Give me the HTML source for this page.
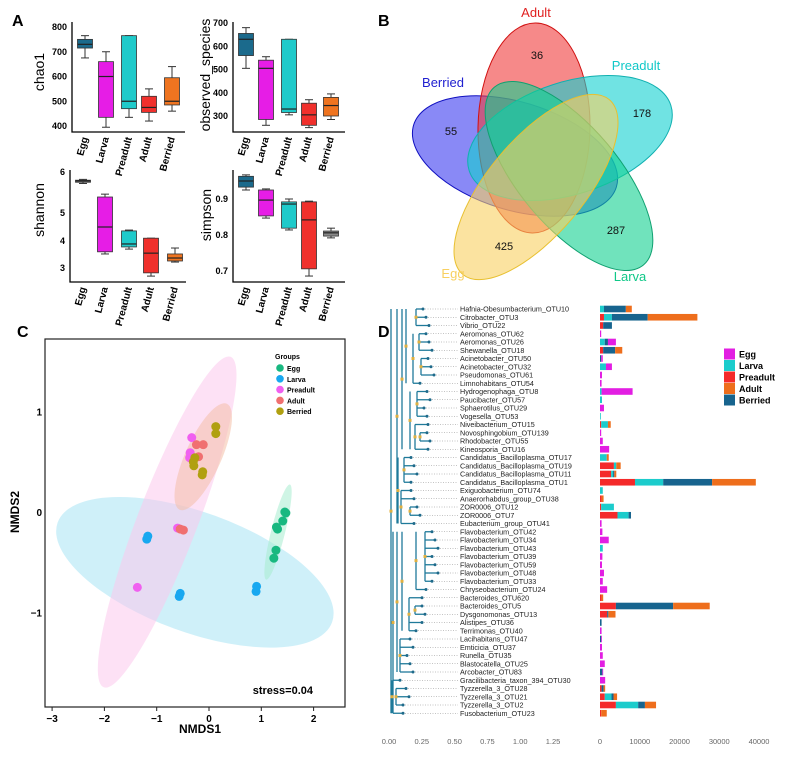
<!DOCTYPE html>
<html><head><meta charset="utf-8"><style>
body{margin:0;background:#fff}
svg{display:block;font-family:"Liberation Sans",sans-serif}
</style></head><body>
<svg id="fig" width="796" height="757" viewBox="0 0 796 757">
<g font-weight="bold" font-size="16">
<text x="12" y="26">A</text>
<text x="378" y="26">B</text>
<text x="17" y="337">C</text>
<text x="378" y="337">D</text>
</g>
<g id="pa"></g>
<g id="pb"></g>
<g id="pc"></g>
<g id="pd"></g>
</svg>
<script>
const NS='http://www.w3.org/2000/svg';
function mk(p,t,a){const e=document.createElementNS(NS,t);for(const k in a)e.setAttribute(k,a[k]);p.appendChild(e);return e;}
function tx(p,x,y,s,a){const e=mk(p,'text',Object.assign({x:x,y:y},a||{}));e.textContent=s;return e;}

// ---------- Panel A data ----------
const groups=['Egg','Larva','Preadult','Adult','Berried'];
const chaoLo=[675,395,435,420,460], chaoQ1=[715,435,470,455,485], chaoMed=[730,600,500,475,500], chaoQ3=[750,660,765,520,595], chaoHi=[765,700,765,550,640];
const obsLo=[505,260,305,250,285], obsQ1=[560,285,315,260,300], obsMed=[630,505,330,305,345], obsQ3=[655,540,630,355,380], obsHi=[680,555,630,370,395];
const shLo=[5.72,3.52,3.7,2.7,3.22], shQ1=[5.75,3.6,3.78,2.82,3.26], shMed=[5.78,4.5,3.89,3.55,3.37], shQ3=[5.8,5.39,4.36,4.1,3.52], shHi=[5.82,5.46,4.39,4.1,3.74];
const siLo=[0.925,0.847,0.814,0.686,0.792], siQ1=[0.933,0.853,0.819,0.706,0.797], siMed=[0.95,0.897,0.886,0.842,0.806], siQ3=[0.963,0.925,0.892,0.892,0.811], siHi=[0.967,0.928,0.9,0.894,0.819];
const chaoTicks=[800,700,600,500,400], obsTicks=[700,600,500,400,300], shTicks=[6,5,4,3], siTicks=[0.9,0.8,0.7];
const shTickPos=[172,213,241,268];

const pa=document.getElementById('pa');
function boxPlot(cfg){
  const g=mk(pa,'g',{});
  
  
  const ax=mk(g,'path',{d:`M${cfg.x0},${cfg.yTop} V${cfg.yBot} H${cfg.x1}`,stroke:'#000','stroke-width':1.3,fill:'none'});
  
  cfg.ticks.forEach(t=>{const l=tx(g,cfg.x0-5,cfg.sy(t)+3,String(t),{'font-size':9,'font-weight':'bold','text-anchor':'end'});});
  const yt=tx(g,0,0,cfg.title,{'font-size':14,transform:`translate(${cfg.tx},${cfg.ty}) rotate(-90)`,'text-anchor':'middle'});
  
  groups.forEach((gr,i)=>{
    const cx=cfg.cx[i],w=15,c=cfg.colors[i];
    const b=mk(g,'g',{});
    
    mk(b,'line',{x1:cx,x2:cx,y1:cfg.sy(cfg.hi[i]),y2:cfg.sy(cfg.lo[i]),stroke:'#333','stroke-width':1});
    mk(b,'line',{x1:cx-4,x2:cx+4,y1:cfg.sy(cfg.hi[i]),y2:cfg.sy(cfg.hi[i]),stroke:'#333','stroke-width':1});
    mk(b,'line',{x1:cx-4,x2:cx+4,y1:cfg.sy(cfg.lo[i]),y2:cfg.sy(cfg.lo[i]),stroke:'#333','stroke-width':1});
    const yq3=cfg.sy(cfg.q3[i]),yq1=cfg.sy(cfg.q1[i]);
    mk(b,'rect',{x:cx-w/2,y:yq3,width:w,height:Math.max(1.5,yq1-yq3),fill:c,stroke:'#333','stroke-width':0.8});
    mk(b,'line',{x1:cx-w/2,x2:cx+w/2,y1:cfg.sy(cfg.med[i]),y2:cfg.sy(cfg.med[i]),stroke:'#222','stroke-width':1.2});
    const xl=tx(g,0,0,gr,{'font-size':10,'font-weight':'bold','text-anchor':'end',transform:`translate(${cx+3},${cfg.yBot+6}) rotate(-75)`});
    
  });
}
const cols1=['#1b6a8c','#e61de6','#1fcaca','#f0302c','#ef7420'];
const cols2=['#8a8a8a','#e61de6','#1fcaca','#f0302c','#ef7420'];
const cols3=['#1b6a8c','#e61de6','#1fcaca','#f0302c','#8a8a8a'];
const lin=(v0,p0,v1,p1)=>v=>p0+(v-v0)*(p1-p0)/(v1-v0);
boxPlot({name:'chao1-boxplot',x0:72,x1:185,yTop:22,yBot:132,sy:lin(800,27,400,126),ticks:chaoTicks,title:'chao1',tx:44,ty:72,cx:[85,106,129,149,172],colors:cols1,lo:chaoLo,q1:chaoQ1,med:chaoMed,q3:chaoQ3,hi:chaoHi});
boxPlot({name:'observed-species-boxplot',x0:233,x1:345,yTop:22,yBot:132,sy:lin(700,23,300,116),ticks:obsTicks,title:'observed_species',tx:210,ty:75,cx:[246,266,289,309,331],colors:cols1,lo:obsLo,q1:obsQ1,med:obsMed,q3:obsQ3,hi:obsHi});
function shScale(v){const vs=shTicks;for(let k=0;k<vs.length-1;k++){if(v<=vs[k]&&v>=vs[k+1]||k==vs.length-2)return shTickPos[k]+(vs[k]-v)*(shTickPos[k+1]-shTickPos[k])/(vs[k]-vs[k+1]);}return shTickPos[0];}
boxPlot({name:'shannon-boxplot',x0:70,x1:186,yTop:170,yBot:282,sy:shScale,ticks:shTicks,title:'shannon',tx:44,ty:210,cx:[83,105,129,151,175],colors:cols2,lo:shLo,q1:shQ1,med:shMed,q3:shQ3,hi:shHi});
boxPlot({name:'simpson-boxplot',x0:233,x1:345,yTop:170,yBot:282,sy:lin(0.9,199,0.7,271),ticks:siTicks,title:'simpson',tx:211,ty:215,cx:[246,266,289,309,331],colors:cols3,lo:siLo,q1:siQ1,med:siMed,q3:siQ3,hi:siHi});

// ---------- Panel B ----------
const pb=document.getElementById('pb');
const vennSets=[
 {n:'berried',cx:515,cy:156,rx:106,ry:54,rot:17,f:'#3a3af0',s:'#1010c0'},
 {n:'adult',cx:534,cy:128,rx:56,ry:105,rot:1,f:'#f03a3a',s:'#d01010'},
 {n:'preadult',cx:570,cy:138,rx:106,ry:56,rot:-18,f:'#10d0d0',s:'#10b0b0'},
 {n:'larva',cx:569,cy:176,rx:116,ry:50,rot:50,f:'#10d090',s:'#10a070'},
 {n:'egg',cx:536,cy:187,rx:114,ry:48,rot:-50,f:'#f8d060',s:'#e8c030'}];
vennSets.forEach(v=>{const e=mk(pb,'ellipse',{cx:v.cx,cy:v.cy,rx:v.rx,ry:v.ry,transform:`rotate(${v.rot} ${v.cx} ${v.cy})`,fill:v.f,'fill-opacity':0.6,stroke:v.s,'stroke-width':1});
 });
[['Adult',536,17,'#e02020',13],['Berried',443,87,'#2020d0',13],['Preadult',636,70,'#10c8c8',13],['Egg',453,278,'#f8d060',13],['Larva',630,281,'#10c888',13],
 ['36',537,59,'#111',11],['55',451,135,'#111',11],['178',642,117,'#111',11],['425',504,250,'#111',11],['287',616,234,'#111',11]].forEach(l=>{
 const t=tx(pb,l[1],l[2],l[0],{'font-size':l[4],fill:l[3],'text-anchor':'middle'});});

// ---------- Panel C ----------
const pc=document.getElementById('pc');
const nmdsTicksX=[-3,-2,-1,0,1,2], nmdsTicksY=[1,0,-1];
const eggX=[1.47,1.45,1.41,1.29,1.31,1.28,1.24], eggY=[-0.01,0.0,-0.09,-0.15,-0.17,-0.38,-0.46];
const larvaX=[-1.19,-1.17,-0.55,-0.57,0.91,0.9], larvaY=[-0.27,-0.24,-0.81,-0.84,-0.74,-0.79];
const preX=[-0.33,-0.36,-0.37,-0.6,-1.37], preY=[0.74,0.59,0.54,-0.16,-0.75];
const adultX=[-0.24,-0.11,-0.49,-0.55,-0.2], adultY=[0.67,0.67,-0.18,-0.17,0.55];
const berX=[0.13,0.13,-0.27,-0.29,-0.12,-0.13,-0.3], berY=[0.85,0.78,0.54,0.46,0.40,0.37,0.5];
const sx=v=>209+v*52.3, sy=v=>512-v*100.5;
const frame=mk(pc,'rect',{x:45,y:339,width:300,height:368,fill:'none',stroke:'#222','stroke-width':1.2});

[['larva',-0.27,-0.6,146,60,20,'#a8e4f4'],['preadult',-0.8,-0.1,177,30,-69,'#fcc8ec'],['adult',-0.11,0.55,58,18,-66,'#f4c0a8'],['egg',1.32,-0.2,49,7,-76,'#a8ecd0']].forEach(e=>{
 const el=mk(pc,'ellipse',{cx:sx(e[1]),cy:sy(e[2]),rx:e[3],ry:e[4],transform:`rotate(${e[5]} ${sx(e[1])} ${sy(e[2])})`,fill:e[6],'fill-opacity':0.55});
 });
function pts(X,Y,c,n){X.forEach((x,i)=>{const p=mk(pc,'circle',{cx:sx(x),cy:sy(Y[i]),r:4.5,fill:c});});}
pts(eggX,eggY,'#18b880','egg');pts(larvaX,larvaY,'#18a8f0','larva');pts(preX,preY,'#f060f0','preadult');pts(adultX,adultY,'#f07070','adult');pts(berX,berY,'#b0a010','berried');
nmdsTicksX.forEach(t=>{mk(pc,'line',{x1:sx(t),x2:sx(t),y1:707,y2:711,stroke:'#222'});const l=tx(pc,sx(t),722,String(t).replace('-','−'),{'font-size':10,'font-weight':'bold','text-anchor':'middle'});});
nmdsTicksY.forEach(t=>{const l=tx(pc,42,sy(t)+4,String(t).replace('-','−'),{'font-size':10,'font-weight':'bold','text-anchor':'end'});});
let t1=tx(pc,200,733,'NMDS1',{'font-size':12,'font-weight':'bold','text-anchor':'middle'});
let t2=tx(pc,0,0,'NMDS2',{'font-size':12,'font-weight':'bold','text-anchor':'middle',transform:'translate(19,512) rotate(-90)'});
let t3=tx(pc,313,694,'stress=0.04',{'font-size':11,'font-weight':'bold','text-anchor':'end'});
const lg=mk(pc,'g',{});
tx(lg,275,359,'Groups',{'font-size':7,'font-weight':'bold'});
[['Egg','#18b880'],['Larva','#18a8f0'],['Preadult','#f060f0'],['Adult','#f07070'],['Berried','#b0a010']].forEach((e,i)=>{const y=368+i*10.8;
 const it=mk(lg,'g',{});
 mk(it,'circle',{cx:280,cy:y,r:3.8,fill:e[1]});tx(it,287,y+3,e[0],{'font-size':7,'font-weight':'bold'});});

// ---------- Panel D ----------
const pd=document.getElementById('pd');
const otus=['Hafnia-Obesumbacterium_OTU10','Citrobacter_OTU3','Vibrio_OTU22','Aeromonas_OTU62','Aeromonas_OTU26','Shewanella_OTU18','Acinetobacter_OTU50','Acinetobacter_OTU32','Pseudomonas_OTU61','Limnohabitans_OTU54','Hydrogenophaga_OTU8','Paucibacter_OTU57','Sphaerotilus_OTU29','Vogesella_OTU53','Niveibacterium_OTU15','Novosphingobium_OTU139','Rhodobacter_OTU55','Kineosporia_OTU16','Candidatus_Bacilloplasma_OTU17','Candidatus_Bacilloplasma_OTU19','Candidatus_Bacilloplasma_OTU11','Candidatus_Bacilloplasma_OTU1','Exiguobacterium_OTU74','Anaerorhabdus_group_OTU38','ZOR0006_OTU12','ZOR0006_OTU7','Eubacterium_group_OTU41','Flavobacterium_OTU42','Flavobacterium_OTU34','Flavobacterium_OTU43','Flavobacterium_OTU39','Flavobacterium_OTU59','Flavobacterium_OTU48','Flavobacterium_OTU33','Chryseobacterium_OTU24','Bacteroides_OTU620','Bacteroides_OTU5','Dysgonomonas_OTU13','Alistipes_OTU36','Terrimonas_OTU40','Lacihabitans_OTU47','Emticicia_OTU37','Runella_OTU35','Blastocatella_OTU25','Arcobacter_OTU83','Gracilibacteria_taxon_394_OTU30','Tyzzerella_3_OTU28','Tyzzerella_3_OTU21','Tyzzerella_3_OTU2','Fusobacterium_OTU23'];
const preadultV=[0,1000,800,0,0,800,0,0,0,0,0,0,0,0,300,0,0,0,0,3500,2800,8800,0,400,300,4400,0,0,0,0,0,0,0,0,0,400,4000,1800,0,0,0,0,0,0,0,0,400,1200,4000,300];
const larvaV=[1000,2000,0,0,1200,0,0,1500,0,0,400,500,0,200,1700,0,0,0,1700,600,500,7100,700,0,3200,2800,0,0,0,700,0,0,0,0,0,0,0,0,0,0,0,0,0,0,0,0,0,1700,5600,0];
const berriedV=[5500,9000,2200,0,800,3000,300,0,0,0,0,0,0,0,0,0,0,0,0,0,300,12300,0,0,0,600,0,0,0,0,0,0,0,0,0,0,14400,300,400,0,300,0,0,0,600,0,500,500,1700,0];
const eggV=[0,0,0,300,2000,0,400,1500,500,400,7800,0,1000,0,0,300,700,2300,0,0,0,0,0,0,0,0,400,600,2200,0,600,500,1000,700,1800,0,0,0,0,400,200,500,700,1200,200,1300,0,0,0,0];
const adultV=[1500,12500,0,0,0,1800,0,0,0,0,0,0,0,0,700,0,0,0,500,1100,500,11000,0,500,0,0,0,0,0,0,0,0,0,0,0,400,9200,1800,0,0,0,0,0,0,0,0,400,900,2800,1400];
const barTicks=[0,10000,20000,30000,40000], treeTicks=['0.00','0.25','0.50','0.75','1.00','1.25'];
const clades=[[0,49,391],[0,26,397],[27,49,393],[0,17,402],[18,26,398],[0,9,406],[10,17,410],[0,2,416],[3,9,413],[3,5,419],[6,8,421],[10,13,417],[14,17,415],[15,16,420],[18,21,404],[22,26,401],[24,25,410],[27,44,397],[45,49,392],[27,39,402],[40,44,400],[27,34,416],[35,39,409],[27,33,425],[36,37,415],[46,48,396]];
const rowY=i=>309+i*8.25, bx=v=>600+v*0.003975;
const stack=[['preadult',preadultV,'#f42a2a'],['larva',larvaV,'#1ccccc'],['berried',berriedV,'#17648e'],['egg',eggV,'#e21ee2'],['adult',adultV,'#ee6e1c']];
otus.forEach((o,i)=>{
  let inner=null;clades.forEach(c=>{if(i>=c[0]&&i<=c[1]&&(!inner||c[2]>inner[2]))inner=c;});
  const tip=inner[2]+7+(i%3)*3, y=rowY(i);
  mk(pd,'line',{x1:inner[2],x2:tip,y1:y,y2:y,stroke:'#1f7a9a','stroke-width':1.3});
  mk(pd,'circle',{cx:tip,cy:y,r:1.5,fill:'#1f6a8a'});
  mk(pd,'line',{x1:tip+2,x2:458,y1:y,y2:y,stroke:'#888','stroke-width':0.6,'stroke-dasharray':'1,1.5'});
  const l=tx(pd,460,y+2.5,o,{'font-size':7.2,fill:'#222'});
  let acc=0;stack.forEach(s=>{const v=s[1][i];if(v>0){const r=mk(pd,'rect',{x:bx(acc),y:y-3.3,width:bx(acc+v)-bx(acc),height:6.6,fill:s[2]});acc+=v;}});
});
clades.forEach(c=>{const y1=rowY(c[0]),y2=rowY(c[1]);
  mk(pd,'line',{x1:c[2],x2:c[2],y1:y1,y2:y2,stroke:'#1f7a9a','stroke-width':1.3});
  mk(pd,'rect',{x:c[2]-1.5,y:(y1+y2)/2-1.5,width:3,height:3,fill:'#e0b040'});
});
treeTicks.forEach((t,i)=>{const l=tx(pd,389+i*32.8,744,t,{'font-size':7.5,fill:'#666','text-anchor':'middle'});});
barTicks.forEach(t=>{const l=tx(pd,bx(t),744,String(t),{'font-size':7.5,fill:'#666','text-anchor':'middle'});});
const dl=mk(pd,'g',{});
[['Egg','#e21ee2'],['Larva','#1ccccc'],['Preadult','#f42a2a'],['Adult','#ee6e1c'],['Berried','#17648e']].forEach((e,i)=>{const y=354+i*11.5;
 const it=mk(dl,'g',{});
 mk(it,'rect',{x:724,y:y-5.5,width:11,height:11,fill:e[1]});tx(it,739,y+3.5,e[0],{'font-size':9,'font-weight':'bold'});});
</script>
</body></html>
